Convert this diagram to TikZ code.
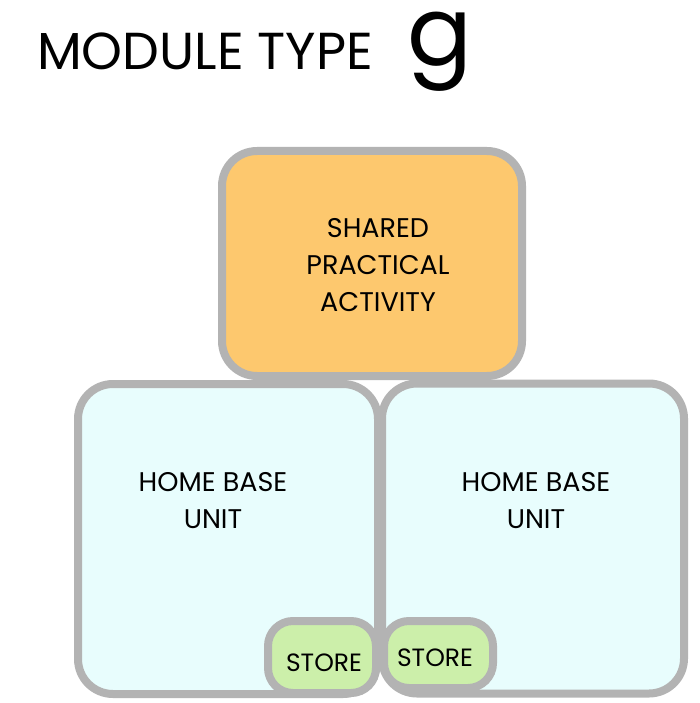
\documentclass[tikz,border=0pt]{standalone}
\usepackage{fontspec}
\setmainfont{Poppins}
\usepackage{tikz}
\definecolor{edgegray}{HTML}{B3B3B3}
\definecolor{sharedfill}{HTML}{FDC86E}
\definecolor{homefill}{HTML}{E8FDFD}
\definecolor{storefill}{HTML}{CCEFAA}
\begin{document}
\begin{tikzpicture}[x=1pt, y=-1pt]
		\tikzset{room/.style={shape = rectangle, draw = edgegray, line width = 8pt, rounded corners = 35pt, inner sep = 0pt}}
		\tikzset{home/.style={room, fill = homefill, minimum width = 300pt, minimum height = 310pt}}
		\tikzset{store/.style={room, fill = storefill, rounded corners = 25pt, minimum width = 108pt, minimum height = 70pt}}
		\tikzset{caption/.style={align = center, font = \fontsize{27}{37}\selectfont}}
		\tikzset{storename/.style={font = \fontsize{25}{28}\selectfont}}
		\useasboundingbox (0, 0) rectangle (699, 703);
		%title
		\node[anchor = base west, inner sep = 0pt, font = \fontsize{52}{54}\selectfont] (title) at (37, 70) {MODULE TYPE};
		\node[anchor = base west, inner sep = 0pt, font = \fontsize{96}{96}\selectfont] (type) at (407, 66) {g};
		%rooms
		\node[home] (home1) at (228, 539) {};
		\node[home, minimum width = 302pt] (home2) at (533, 538.5) {};
		\node[room, fill = sharedfill, minimum width = 300pt, minimum height = 225pt] (shared) at (372, 263.5) {};
		\node[store, minimum height = 72pt] (store1) at (322, 657) {};
		\node[store, minimum width = 109pt, minimum height = 67pt] (store2) at (438.5, 654.5) {};
		%labels
		\node[caption] (sharedtext) at (378, 265) {SHARED\\PRACTICAL\\ACTIVITY};
		\node[caption] (hometext1) at (213, 501) {HOME BASE\\UNIT};
		\node[caption] (hometext2) at (536, 501) {HOME BASE\\UNIT};
		\node[storename] (storetext1) at (324, 663) {STORE};
		\node[storename] (storetext2) at (435, 658) {STORE};
		\end{tikzpicture}
\end{document}
